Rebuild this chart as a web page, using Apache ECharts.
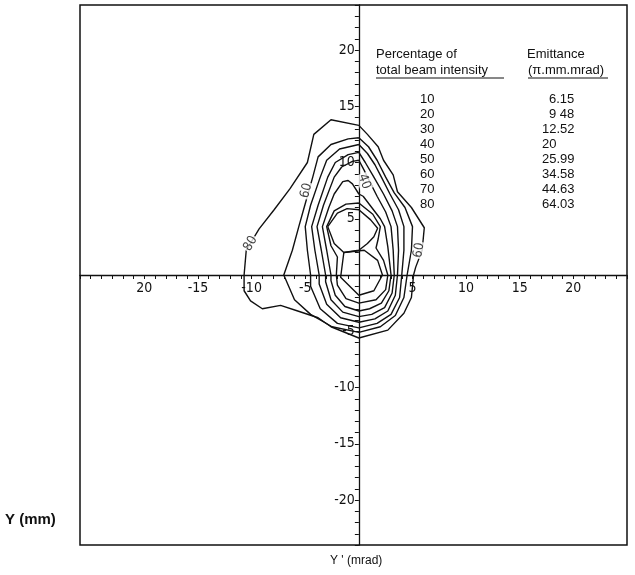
<!DOCTYPE html>
<html>
<head>
    <meta charset="utf-8">
    <title></title>
    <script src="https://cdn.jsdelivr.net/npm/echarts@6.0.0/dist/echarts.min.js"></script>
</head>
<body style="margin:0;background:#fff;">
    <div id="main" style="width: 635px;height:575px;"></div>
    <script type="text/javascript">
// tick labels as printed on the figure
var xTickValues = [-20, -15, -10, -5, 5, 10, 15, 20]
var xTickText = ['20', '-15', '-10', '-5', '5', '10', '15', '20']
var yTickValues = [20, 15, 10, 5, -5, -10, -15, -20]
var yTickText = ['20', '15', '10', '5', '-5', '-10', '-15', '-20']

// table in the upper right
var percentages = ['10', '20', '30', '40', '50', '60', '70', '80']
var emittances = ['6.15', '9 48', '12.52', '20', '25.99', '34.58', '44.63', '64.03']

// contour lines [Y' mrad, Y mm]
var c80 = [[0,13.3],[0.8,12.5],[1.8,11.4],[2.3,10.2],[3.2,8.9],[3.6,7.4],[4.9,6.0],[6.1,4.2],[5.9,2.2],[5.3,0.7],[5.1,0],[4.9,-2.0],[4.2,-3.4],[2.7,-4.9],[0,-5.6],[-2.6,-4.6],[-3.8,-3.8],[-5.7,-3.2],[-7.3,-2.7],[-9.0,-3.0],[-10.1,-2.3],[-10.7,-1.4],[-10.7,0],[-10.5,2.2],[-9.3,4.1],[-7.9,5.8],[-6.4,7.7],[-4.8,10.0],[-4.2,12.5],[-2.6,13.8],[0,13.3]]
var c70 = [[0,12.2],[0.9,11.4],[1.7,10.2],[2.5,8.7],[3.3,7.3],[4.3,6.0],[5.0,4.3],[4.9,2.2],[4.5,0],[4.2,-2.0],[3.4,-3.6],[2.0,-4.6],[0,-5.1],[-2.5,-4.6],[-4.5,-3.5],[-6.0,-2.2],[-7.0,0],[-6.2,2.2],[-5.6,4.3],[-5.1,6.0],[-4.3,8.7],[-3.8,10.5],[-2.6,11.6],[-1.0,12.1],[0,12.2]]
var c60 = [[0,11.6],[0.8,10.8],[1.5,9.8],[2.1,8.7],[2.9,7.2],[3.7,5.8],[4.2,4.3],[4.2,2.2],[4.0,0],[3.8,-2.0],[3.0,-3.5],[1.7,-4.3],[0,-4.7],[-2.0,-4.3],[-3.6,-3.0],[-4.5,-1.0],[-4.5,0],[-4.8,2.2],[-5.0,4.3],[-4.5,6.2],[-3.6,8.7],[-3.0,10.2],[-1.8,11.2],[0,11.6]]
var c50 = [[0,10.9],[0.6,10.0],[1.4,8.7],[2.3,7.2],[3.1,5.7],[3.6,4.3],[3.7,2.2],[3.6,0],[3.4,-1.8],[2.7,-3.2],[1.5,-3.9],[0,-4.2],[-1.7,-3.8],[-3.0,-2.6],[-3.7,-0.8],[-3.7,0],[-4.1,2.2],[-4.4,4.3],[-3.8,6.2],[-2.9,8.7],[-2.2,10.0],[-1.0,10.7],[0,10.9]]
var c40 = [[0,10.2],[0.5,9.3],[0.8,8.7],[1.7,7.0],[2.5,5.6],[3.0,4.3],[3.2,2.2],[3.3,0],[3.1,-1.6],[2.4,-2.9],[1.2,-3.5],[0,-3.7],[-1.5,-3.3],[-2.6,-2.2],[-3.1,-0.6],[-3.1,0],[-3.5,2.2],[-3.9,4.3],[-3.3,6.2],[-2.3,8.7],[-1.6,9.6],[-0.6,10.1],[0,10.2]]
var c30 = [[0.4,7.0],[1.2,6.0],[2.0,5.0],[2.4,4.3],[2.7,2.5],[3.0,0],[2.8,-1.4],[2.1,-2.5],[1.0,-3.0],[0,-3.2],[-1.3,-2.8],[-2.2,-1.8],[-2.6,-0.5],[-2.6,0],[-3.0,2.2],[-3.4,4.3],[-2.8,6.0],[-2.3,7.2],[-1.5,8.3],[-1.0,8.4],[-0.6,8.1],[0,7.2],[0.4,7.0]]
var c20 = [[0,6.4],[1.3,5.4],[2.0,4.3],[1.8,3.2],[1.6,2.4],[2.3,1.3],[2.7,0],[2.5,-1.3],[1.6,-2.2],[0,-2.5],[-1.2,-2.1],[-2.0,-0.9],[-2.1,0],[-2.0,1.6],[-2.6,2.6],[-3.0,4.3],[-2.3,5.7],[-1.2,6.3],[0,6.4]]
var c10Upper = [[-2.9,4.3],[-2.0,5.5],[-1.1,5.9],[0,5.8],[1.1,4.9],[1.75,4.15],[1.4,3.4],[0.8,2.8],[0,2.2],[-1.4,2.0],[-2.3,2.8],[-2.9,4.3]]
var c10Lower = [[-1.4,2.0],[-1.7,-0.2],[0,-1.8],[1.4,-1.4],[2.2,0],[1.75,1.3],[0.5,2.2],[-1.4,2.0]]

var contours = [c80, c70, c60, c50, c40, c30, c20, c10Upper, c10Lower]

// contour level labels written on the lines
var levelLabelText = ['80', '60', '40', '60']
var levelLabelPos = [[-10.1, 2.8], [-4.9, 7.5], [0.5, 8.3], [5.6, 2.2]]
var levelLabelRotate = [60, 75, -70, 80]

// axis ranges
var xMin = -26, xMax = 25
var yMin = -24, yMax = 24

var chartW = 635, chartH = 575
var gridL = 80, gridR = 8, gridT = 5, gridB = 30

// the axes cross at zero inside the frame
var plotW = chartW - gridL - gridR
var plotH = chartH - gridT - gridB
var zeroFromLeft = (0 - xMin) / (xMax - xMin) * plotW
var zeroFromBottom = (0 - yMin) / (yMax - yMin) * plotH

var myChart = echarts.init(document.getElementById('main'))

var tickFont = {
  color: '#111',
  fontSize: 14,
  fontFamily: 'Liberation Sans Narrow, DejaVu Sans Condensed, sans-serif'
}

var series = contours.map(function (pts) {
  return {
    type: 'line',
    data: pts,
    showSymbol: false,
    symbol: 'none',
    silent: true,
    lineStyle: { color: '#111', width: 1.4 },
    z: 2
  }
})

series.push({
  type: 'scatter',
  symbolSize: 0,
  z: 5,
  data: levelLabelPos.map(function (p, i) {
    return {
      value: p,
      name: levelLabelText[i],
      label: { rotate: levelLabelRotate[i] }
    }
  }),
  label: {
    show: true,
    position: 'inside',
    formatter: '{b}',
    color: '#111',
    fontSize: 13,
    fontFamily: 'Liberation Sans Narrow, DejaVu Sans Condensed, sans-serif',
    backgroundColor: '#fff',
    padding: [0, 1]
  }
})

var textFont = 'Liberation Sans, Arial, sans-serif'
var graphics = [
  { type: 'text', left: 376, top: 48, style: { text: 'Percentage of', fontSize: 13, fontFamily: textFont, fill: '#111' } },
  { type: 'text', left: 376, top: 64, style: { text: 'total beam intensity', fontSize: 13, fontFamily: textFont, fill: '#111' } },
  { type: 'line', shape: { x1: 376, y1: 78, x2: 504, y2: 78 }, style: { stroke: '#111', lineWidth: 1 } },
  { type: 'text', left: 527, top: 48, style: { text: 'Emittance', fontSize: 13, fontFamily: textFont, fill: '#111' } },
  { type: 'text', left: 528, top: 64, style: { text: '(\u03c0.mm.mrad)', fontSize: 13, fontFamily: textFont, fill: '#111' } },
  { type: 'line', shape: { x1: 528, y1: 78, x2: 608, y2: 78 }, style: { stroke: '#111', lineWidth: 1 } },
  { type: 'text', left: 5, top: 512, style: { text: 'Y (mm)', fontSize: 15, fontWeight: 'bold', fontFamily: textFont, fill: '#111' } },
  { type: 'text', left: 330, top: 555, style: { text: "Y ' (mrad)", fontSize: 12, fontFamily: textFont, fill: '#111' } }
]

percentages.forEach(function (p, i) {
  graphics.push({ type: 'text', left: 420, top: 93 + i * 15, style: { text: p, fontSize: 13, fontFamily: textFont, fill: '#111' } })
  var intLen = emittances[i].split(/[. ]/)[0].length
  graphics.push({ type: 'text', left: 549 - (intLen - 1) * 7, top: 93 + i * 15, style: { text: emittances[i], fontSize: 13, fontFamily: textFont, fill: '#111' } })
})

var option = {
  backgroundColor: '#fff',
  animation: false,
  grid: {
    show: true,
    left: gridL,
    right: gridR,
    top: gridT,
    bottom: gridB,
    borderColor: '#111',
    borderWidth: 1.5,
    backgroundColor: 'transparent'
  },
  xAxis: {
    type: 'value',
    min: xMin,
    max: xMax,
    interval: 1,
    offset: -(plotH - zeroFromBottom) - 0,
    axisLine: { onZero: false, lineStyle: { color: '#111', width: 1.3 } },
    axisTick: { show: true, length: 4, lineStyle: { color: '#111', width: 1 } },
    splitLine: { show: false },
    axisLabel: Object.assign({
      margin: 6,
      formatter: function (v) {
        var i = xTickValues.indexOf(Math.round(v))
        return i < 0 ? '' : xTickText[i]
      }
    }, tickFont)
  },
  yAxis: {
    type: 'value',
    min: yMin,
    max: yMax,
    interval: 1,
    offset: -zeroFromLeft,
    axisLine: { onZero: false, lineStyle: { color: '#111', width: 1.3 } },
    axisTick: { show: true, length: 4, lineStyle: { color: '#111', width: 1 } },
    splitLine: { show: false },
    axisLabel: Object.assign({
      margin: 4,
      formatter: function (v) {
        var i = yTickValues.indexOf(Math.round(v))
        return i < 0 ? '' : yTickText[i]
      }
    }, tickFont)
  },
  graphic: graphics,
  series: series
}
myChart.setOption(option)
    </script>
</body>
</html>
